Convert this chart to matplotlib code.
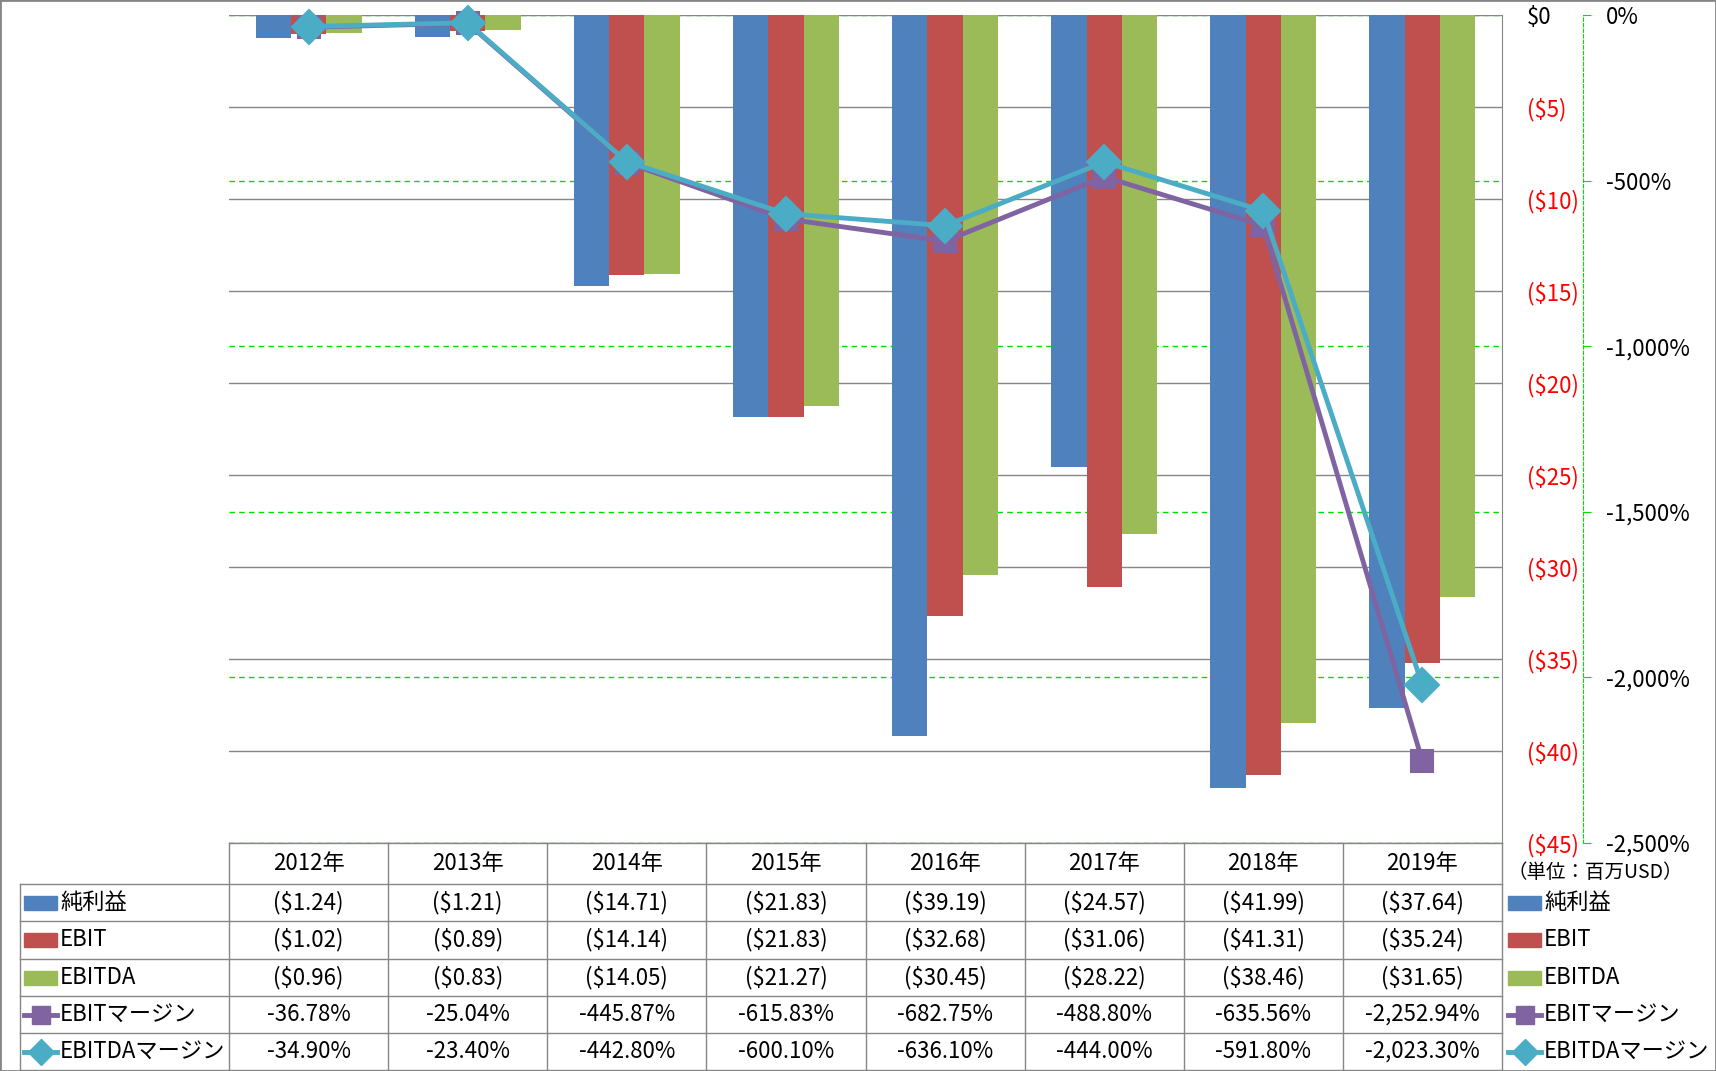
import numpy as np
import matplotlib.pyplot as plt
from matplotlib.patches import Rectangle

plt.rcParams['font.family'] = ['Noto Sans CJK JP', 'DejaVu Sans']

years = ['2012年', '2013年', '2014年', '2015年', '2016年', '2017年', '2018年', '2019年']
net_income = [-1.24, -1.21, -14.71, -21.83, -39.19, -24.57, -41.99, -37.64]
ebit = [-1.02, -0.89, -14.14, -21.83, -32.68, -31.06, -41.31, -35.24]
ebitda = [-0.96, -0.83, -14.05, -21.27, -30.45, -28.22, -38.46, -31.65]
ebit_margin = [-36.78, -25.04, -445.87, -615.83, -682.75, -488.80, -635.56, -2252.94]
ebitda_margin = [-34.90, -23.40, -442.80, -600.10, -636.10, -444.00, -591.80, -2023.30]

bar_names = ['純利益', 'EBIT', 'EBITDA']
line_names = ['EBITマージン', 'EBITDAマージン']
bar_colors = ['#4F81BD', '#C0504D', '#9BBB59']
line_colors = ['#8064A2', '#4BACC6']
line_markers = ['s', 'D']

GRAY = '#868686'
GREEN = '#00E000'
FS = 16

W, H = 1716, 1071
fig = plt.figure(figsize=(W / 100, H / 100), dpi=100)


def box(x0, y0, x1, y1):
    return [x0 / W, 1 - y1 / H, (x1 - x0) / W, (y1 - y0) / H]


ax = fig.add_axes(box(229, 15, 1502, 843))
axg = ax.twinx()
ax2 = ax.twinx()
axg.set_zorder(1)
ax.set_zorder(2)
ax2.set_zorder(3)
for a in (ax, axg, ax2):
    a.patch.set_visible(False)

x = np.arange(len(years))
bw = 1 / 4.5

# bars (primary axis)
for i, (vals, c) in enumerate(zip([net_income, ebit, ebitda], bar_colors)):
    ax.bar(x + (i - 1) * bw, vals, bw, color=c, zorder=3)

ax.set_xlim(-0.5, 7.5)
ax.set_ylim(-45, 0)
ax.set_xticks([])
ax.set_yticks(np.arange(-45, 1, 5))
ax.yaxis.tick_right()
ax.yaxis.set_major_formatter(lambda v, p: '$0' if v == 0 else '(${:.0f})'.format(abs(v)))
ax.tick_params(axis='y', length=0, pad=18, labelsize=FS)
ax.grid(axis='y', color=GRAY, lw=1)
for lab, v in zip(ax.get_yticklabels(), np.arange(-45, 1, 5)):
    lab.set_color('black' if v == 0 else 'red')
for s in ['top', 'left', 'bottom']:
    ax.spines[s].set_visible(False)
ax.spines['right'].set_color(GRAY)

# secondary axis grid + spine
axg.set_ylim(-2500, 0)
axg.set_yticks(np.arange(-2500, 1, 500))
axg.yaxis.set_major_formatter(lambda v, p: '{:,.0f}%'.format(v))
axg.grid(axis='y', color=GREEN, lw=1, ls=(0, (4, 3)))
axg.tick_params(axis='y', direction='out', length=6, color=GREEN, pad=11, labelsize=FS)
for lab, v in zip(axg.get_yticklabels(), np.arange(-2500, 1, 500)):
    lab.set_color('black' if v == 0 else 'red')
for s in ['top', 'left', 'bottom']:
    axg.spines[s].set_visible(False)
axg.spines['right'].set_position(('outward', 58))
axg.spines['right'].set_color(GREEN)
axg.spines['right'].set_linestyle((0, (3, 2)))

# margin lines (secondary scale)
ax2.set_ylim(-2500, 0)
ax2.set_yticks([])
for s in ax2.spines.values():
    s.set_visible(False)
for vals, c, m in zip([ebit_margin, ebitda_margin], line_colors, line_markers):
    ms = 16 if m == 's' else 17
    ax2.plot(x, vals, color=c, lw=3.5, marker=m, ms=ms, mec=c, mew=1.5,
             solid_joinstyle='round', clip_on=False)

# data table
tab = fig.add_axes(box(229, 843, 1502, 1070))
tab.set_xlim(-0.5, 7.5)
tab.set_ylim(227, 0)
tab.axis('off')
rows = [0, 41, 78, 116, 153, 190, 227]
cw = 1273 / 8
xl = -0.5 - 209 / cw

tab.plot([-0.5, 7.5], [0, 0], color=GRAY, lw=1, clip_on=False)
for i in range(9):
    tab.plot([i - 0.5, i - 0.5], [0, 227], color=GRAY, lw=1, clip_on=False)
for r in rows[1:]:
    tab.plot([xl, 7.5], [r, r], color=GRAY, lw=1, clip_on=False)
tab.plot([xl, xl], [41, 227], color=GRAY, lw=1, clip_on=False)

for i, yr in enumerate(years):
    tab.text(i, 21, yr, ha='center', va='center', fontsize=FS)

series = [net_income, ebit, ebitda, ebit_margin, ebitda_margin]
names = bar_names + line_names
for k, vals in enumerate(series):
    yc = (rows[k + 1] + rows[k + 2]) / 2
    for i, v in enumerate(vals):
        if k < 3:
            s = '(${:.2f})'.format(abs(v))
        else:
            s = '{:,.2f}%'.format(v)
        tab.text(i, yc, s, ha='center', va='center', fontsize=FS)


def draw_key(x0, x1, xt, yc, k, fs):
    if k < 3:
        tab.add_patch(Rectangle((x0, yc - 7), x1 - x0, 14, color=bar_colors[k], clip_on=False))
    else:
        c = line_colors[k - 3]
        tab.plot([x0, x1], [yc, yc], color=c, lw=3.5, clip_on=False)
        tab.plot([(x0 + x1) / 2], [yc], color=c, marker=line_markers[k - 3],
                 ms=13, clip_on=False)
    tab.text(xt, yc, names[k], ha='left', va='center', fontsize=fs)


for k in range(5):
    yc = (rows[k + 1] + rows[k + 2]) / 2
    # left legend keys inside the table
    draw_key(-0.5 - 205 / cw, -0.5 - 172 / cw, -0.5 - 169 / cw, yc, k, FS)
    # right legend
    draw_key(7.5 + 6 / cw, 7.5 + 39 / cw, 7.5 + 42 / cw, yc, k, FS)

tab.text(7.5 + 93 / cw, 29, '（単位：百万USD）', ha='center', va='center', fontsize=14)

fig.patches.append(Rectangle((0, 0), 1, 1, transform=fig.transFigure, fill=False,
                             ec=GRAY, lw=2))

fig.savefig('out.png', dpi=100)
